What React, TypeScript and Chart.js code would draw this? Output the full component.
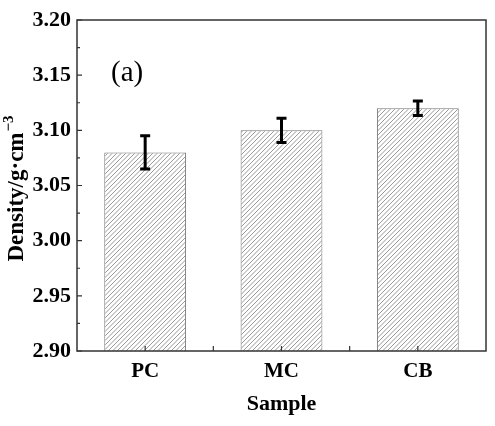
import { useEffect, useRef } from "react";
import { Chart, registerables } from "chart.js";

Chart.register(...registerables);

// Measured density per sample, with standard deviation
const samples = ["PC", "MC", "CB"];
const density = [3.08, 3.1, 3.12];
const densityError = [0.015, 0.011, 0.0065];

const yMin = 2.9;
const yMax = 3.2;
const yStep = 0.05;

const panelLabel = "(a)";
const xTitle = "Sample";
const yTitleMain = "Density/g\u00b7cm";
const yTitleSup = "\u22123";

const SERIF = "'Liberation Serif', 'Times New Roman', serif";

function makeHatch(): CanvasPattern | string {
  const s = 9;
  const c = document.createElement("canvas");
  c.width = s;
  c.height = s;
  const g = c.getContext("2d");
  if (!g) return "#ccc";
  g.fillStyle = "#ffffff";
  g.fillRect(0, 0, s, s);
  g.strokeStyle = "#8c8c8c";
  g.lineWidth = 0.9;
  g.beginPath();
  for (const off of [-9, -4.5, 0, 4.5, 9]) {
    g.moveTo(off - 1, s + 1);
    g.lineTo(off + s + 1, -1);
  }
  g.stroke();
  return g.createPattern(c, "repeat") ?? "#ccc";
}

// Error bars, closed frame, inward ticks, rotated y title and panel tag
const decorations = {
  id: "decorations",
  afterDatasetsDraw(chart: any) {
    const { ctx, chartArea: a, scales } = chart;
    const xs = scales.x;
    const ys = scales.y;
    ctx.save();

    // error bars
    ctx.strokeStyle = "#000";
    ctx.lineWidth = 3;
    ctx.lineCap = "butt";
    density.forEach((v, i) => {
      const px = xs.getPixelForValue(i);
      const top = ys.getPixelForValue(v + densityError[i]);
      const bot = ys.getPixelForValue(v - densityError[i]);
      ctx.beginPath();
      ctx.moveTo(px, top);
      ctx.lineTo(px, bot);
      ctx.moveTo(px - 5, top);
      ctx.lineTo(px + 5, top);
      ctx.moveTo(px - 5, bot);
      ctx.lineTo(px + 5, bot);
      ctx.stroke();
    });

    // frame
    ctx.strokeStyle = "#333";
    ctx.lineWidth = 1.5;
    ctx.strokeRect(a.left, a.top, a.right - a.left, a.bottom - a.top);

    // y ticks (major + minor), pointing inward
    ctx.lineWidth = 1.2;
    const n = Math.round((yMax - yMin) / (yStep / 2));
    ctx.beginPath();
    for (let k = 0; k <= n; k++) {
      const v = yMin + (k * yStep) / 2;
      const py = ys.getPixelForValue(v);
      const len = k % 2 === 0 ? 5 : 3;
      ctx.moveTo(a.left, py);
      ctx.lineTo(a.left + len, py);
    }
    // x ticks at category centres and between categories
    for (let k = 0; k <= 2 * (samples.length - 1); k++) {
      const px = xs.getPixelForValue(k / 2);
      ctx.moveTo(px, a.bottom);
      ctx.lineTo(px, a.bottom - 5);
    }
    ctx.stroke();

    // y axis title with superscript
    ctx.fillStyle = "#000";
    ctx.translate(17, 189);
    ctx.rotate(-Math.PI / 2);
    const mainFont = `bold 23px ${SERIF}`;
    const supFont = `bold 15px ${SERIF}`;
    ctx.font = mainFont;
    const wMain = ctx.measureText(yTitleMain).width;
    ctx.font = supFont;
    const wSup = ctx.measureText(yTitleSup).width;
    const x0 = -(wMain + wSup) / 2;
    ctx.textBaseline = "middle";
    ctx.textAlign = "left";
    ctx.font = mainFont;
    ctx.fillText(yTitleMain, x0, 0);
    ctx.font = supFont;
    ctx.fillText(yTitleSup, x0 + wMain + 1, -8);
    ctx.setTransform(1, 0, 0, 1, 0, 0);

    // panel tag
    ctx.font = `29px ${SERIF}`;
    ctx.textAlign = "left";
    ctx.textBaseline = "middle";
    ctx.fillText(panelLabel, a.left + 34, ys.getPixelForValue(3.152));

    ctx.restore();
  },
};

export default function App() {
  const ref = useRef<HTMLCanvasElement | null>(null);

  useEffect(() => {
    const canvas = ref.current;
    if (!canvas) return;
    const xFont = { family: SERIF, size: 21, weight: "bold" as const };
    const yFont = { family: SERIF, size: 22, weight: "bold" as const };
    const chart = new Chart(canvas, {
      type: "bar",
      data: {
        labels: samples,
        datasets: [
          {
            data: density,
            backgroundColor: makeHatch() as any,
            borderColor: "#777",
            borderWidth: 1,
            categoryPercentage: 1,
            barPercentage: 0.6,
            base: yMin,
          },
        ],
      },
      options: {
        responsive: false,
        animation: false,
        devicePixelRatio: 1,
        layout: { padding: { top: 20, right: 9, bottom: 0, left: 0 } },
        plugins: {
          legend: { display: false },
          tooltip: { enabled: false },
        },
        scales: {
          x: {
            type: "category",
            offset: true,
            grid: { display: false, drawTicks: false },
            border: { display: false },
            ticks: { color: "#000", font: xFont, padding: 8 },
            title: {
              display: true,
              text: xTitle,
              color: "#000",
              font: { family: SERIF, size: 22, weight: "bold" as const },
              padding: { top: 0, bottom: 8 },
            },
            afterFit(s: any) {
              s.height = 75;
            },
          },
          y: {
            min: yMin,
            max: yMax,
            grid: { display: false, drawTicks: false },
            border: { display: false },
            ticks: {
              stepSize: yStep,
              color: "#000",
              font: yFont,
              padding: 6,
              callback: (v: any) => Number(v).toFixed(2),
            },
            afterFit(s: any) {
              s.width = 77;
            },
          },
        },
      },
      plugins: [decorations],
    });
    return () => chart.destroy();
  }, []);

  return (
    <div style={{ position: "absolute", left: 0, top: 0, width: 495, height: 426, background: "#fff" }}>
      <canvas ref={ref} width={495} height={426} style={{ display: "block" }} />
    </div>
  );
}
